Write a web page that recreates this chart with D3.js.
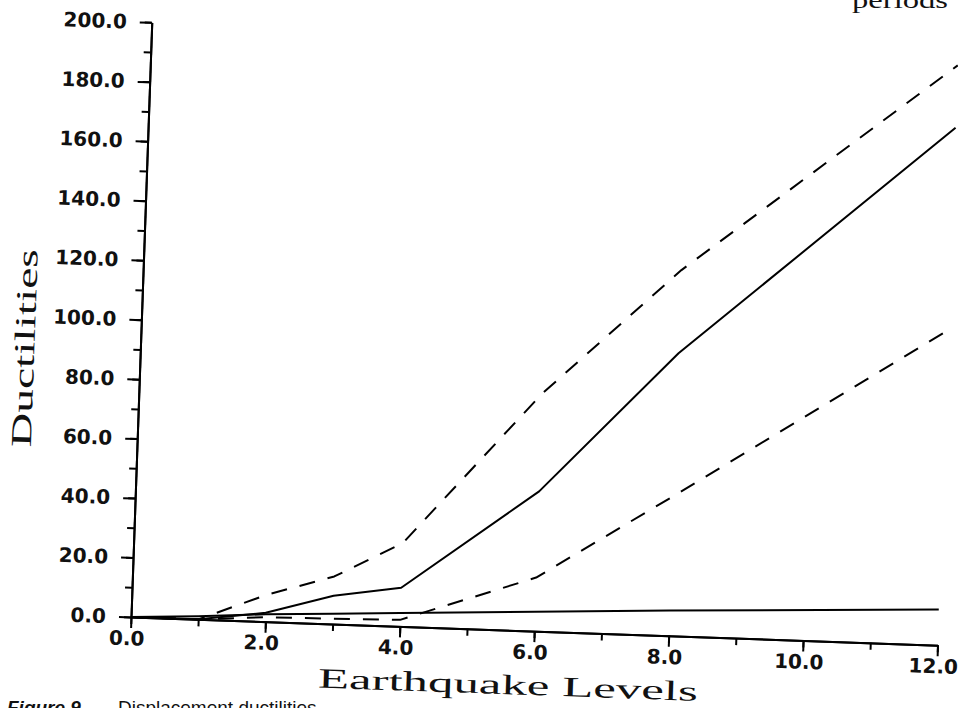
<!DOCTYPE html>
<html lang="en">
<head>
  <meta charset="UTF-8">
  <title>Ductilities vs Earthquake Levels</title>
  <script src="https://d3js.org/d3.v7.min.js"></script>
  <style>
    body { margin: 0; background: #fff; }
    .tick text { font-family: "DejaVu Sans", sans-serif; font-weight: bold; font-size: 20px; fill: #111; }
    .domain, .tick line { stroke: #000; stroke-width: 2; }
    .title { font-family: "Liberation Serif", serif; fill: #111; }
  </style>
</head>
<body>
<script>

  // earthquake levels where the curves were computed
  var levels = [0, 1, 2, 3, 4, 6, 8, 12];
  // ductility curves
  var meanDuct  = [0, 0, 3, 9.5, 13, 47, 95, 174];
  var upperDuct = [0, 0, 9, 16, 28, 80, 123, 195];
  var lowerDuct = [0, 0, 1.5, 1.8, 2.2, 18, 47, 106];
  var baseDuct  = [0, 1, 2.5, 3.5, 4.5, 6.5, 8.5, 12];

  var xTicks = [0, 2, 4, 6, 8, 10, 12];
  var xMinorTicks = [0, 1, 2, 3, 4, 5, 6, 7, 8, 9, 10, 11, 12];
  var yTicks = [0, 20, 40, 60, 80, 100, 120, 140, 160, 180, 200];
  var yMinorTicks = d3.range(0, 201, 10);

  var width = 958, height = 708;
  var ox = 131, oy = 617, tilt = 2.0;   // the scanned page is slightly turned

  var xScale = d3.scaleLinear().domain([0, 12]).range([ox, ox + 807]);
  var yScale = d3.scaleLinear().domain([0, 200]).range([oy, oy - 595]);

  var svg = d3.select("body").append("svg")
          .attr("width", width)
          .attr("height", height);

  var plot = svg.append("g").attr("transform", `rotate(${tilt},${ox},${oy})`);

  var fmt = d3.format(".1f");

  // minor ticks first, then the labelled ones
  plot.append("g")
          .attr("transform", `translate(0,${oy})`)
          .call(d3.axisBottom(xScale).tickValues(xMinorTicks).tickSize(7).tickSizeOuter(0).tickFormat(""));
  var xAx = plot.append("g")
          .attr("transform", `translate(0,${oy})`)
          .call(d3.axisBottom(xScale).tickValues(xTicks).tickSize(11).tickSizeOuter(0).tickPadding(3).tickFormat(fmt));
  xAx.selectAll("text").attr("x", -4);

  plot.append("g")
          .attr("transform", `translate(${ox},0)`)
          .call(d3.axisLeft(yScale).tickValues(yMinorTicks).tickSize(7).tickSizeOuter(0).tickFormat(""));
  plot.append("g")
          .attr("transform", `translate(${ox},0)`)
          .call(d3.axisLeft(yScale).tickValues(yTicks).tickSize(12).tickSizeOuter(0).tickPadding(13).tickFormat(fmt));

  var line = d3.line()
          .x(function (d) { return xScale(d[0]); })
          .y(function (d) { return yScale(d[1]); });

  function drawCurve(values, dashed) {
    plot.append("path")
            .datum(levels.map(function (l, i) { return [l, values[i]]; }))
            .attr("d", line)
            .attr("fill", "none")
            .attr("stroke", "#000")
            .attr("stroke-width", 2)
            .attr("stroke-linejoin", "round")
            .attr("stroke-dasharray", dashed ? "16,13" : null);
  }

  drawCurve(baseDuct, false);
  drawCurve(lowerDuct, true);
  drawCurve(meanDuct, false);
  drawCurve(upperDuct, true);

  // axis titles
  plot.append("text").attr("class", "title")
          .attr("x", 320).attr("y", 681)
          .attr("font-size", 28)
          .attr("textLength", 380).attr("lengthAdjust", "spacingAndGlyphs")
          .text("Earthquake Levels");

  plot.append("text").attr("class", "title")
          .attr("transform", "translate(25,352) rotate(-90)")
          .attr("text-anchor", "middle")
          .attr("font-size", 29)
          .attr("textLength", 198).attr("lengthAdjust", "spacingAndGlyphs")
          .text("Ductilities");

  // bits of the page text cut by the scan
  svg.append("text")
          .attr("x", 852).attr("y", 8)
          .attr("font-family", "Liberation Serif").attr("font-size", 24)
          .attr("textLength", 96).attr("lengthAdjust", "spacingAndGlyphs")
          .attr("fill", "#111")
          .text("periods");

  svg.append("text")
          .attr("x", 7).attr("y", 714)
          .attr("font-family", "Liberation Sans").attr("font-style", "italic").attr("font-weight", "bold")
          .attr("font-size", 19).attr("fill", "#111")
          .text("Figure 9.");
  svg.append("text")
          .attr("x", 118).attr("y", 714)
          .attr("font-family", "Liberation Sans").attr("font-size", 19).attr("fill", "#111")
          .text("Displacement ductilities");

</script>
</body>
</html>
